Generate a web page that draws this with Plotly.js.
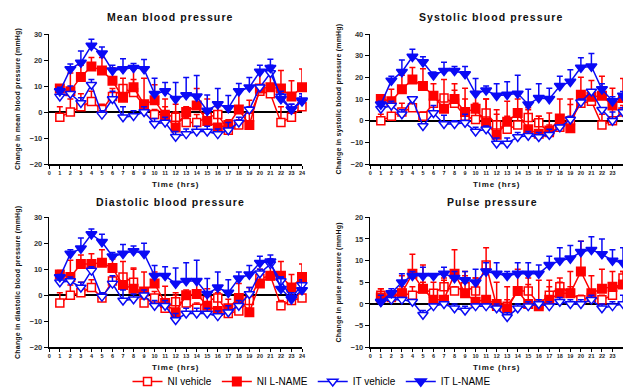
<!DOCTYPE html>
<html>
<head>
<meta charset="utf-8">
<script src="https://cdn.plot.ly/plotly-3.0.1.min.js"></script>
<style>
  html, body { margin: 0; padding: 0; background: #fff; }
  #chart { width: 623px; height: 388px; }
  .annotation-text { letter-spacing: 1.1px; }
  .g-xtitle text, .g-x2title text, .g-x3title text, .g-x4title text { letter-spacing: 0.9px; }
  .g-ytitle text, .g-y2title text, .g-y3title text, .g-y4title text { letter-spacing: 0.2px; }
</style>
</head>
<body>
<div id="chart"></div>
<script>
// ---------- data ----------
const hours = [1,2,3,4,5,6,7,8,9,10,11,12,13,14,15,16,17,18,19,20,21,22,23,24];
const seriesNames = ["NI vehicle", "NI L-NAME", "IT vehicle", "IT L-NAME"];
const panelTitles = ["Mean blood pressure", "Systolic blood pressure", "Diastolic blood pressure", "Pulse pressure"];
const yTitles = ["Change in mean blood pressure (mmHg)", "Change in systolic blood pressure (mmHg)",
                 "Change in diastolic blood pressure (mmHg)", "Change in pulse pressure (mmHg)"];
const xTitle = "Time (hrs)";
const yRanges = [[-20, 30], [-20, 40], [-20, 30], [-10, 20]];
const yDticks = [10, 10, 10, 5];

// Mean blood pressure
const meanNIveh     = [-2,0,2,4,1,6,9,7.5,2.5,-1,-1,-2,-4,-4,-2,-1,-7,-5,-2,8,7,-4,-2,2];
const meanNIvehErr  = [4,5,5,4,2,3,1.5,5,1.5,2,3,2,2,3,3,3,2,2,3,2,3,6,2,2];
const meanNILN      = [9,8,13.5,17.5,16,12,5.5,9.5,3,4.5,-1.5,-6,0,2.5,-3.5,-6,-5,1,-5,9,9.5,9,6,9.5];
const meanNILNErr   = [1,7,4.5,3.5,5,5,7.5,7,10,6,6.5,9,2,6.5,8.5,9,2,7,9.5,7,7.5,7,6,7];
const meanITveh     = [6,7,3.5,10.5,-1,5,-2,-1.5,0,-4.5,-4,-9.5,-8.5,-7.5,-7.5,-8.5,-7,-4,1,9.5,15,6,1,4];
const meanITvehErr  = [2,3,2,2,1.5,3,4,2,2,2,2,2,2,2,2,2,3,2,1,1,3,2,2,2];
const meanITLN      = [8,16.5,19,25.5,22.5,16,16.5,17,16.5,7,8,5,6.5,6,0.5,3,1.5,8,9.5,15.5,17,5,1,4.5];
const meanITLNErr   = [1.5,2,4.5,2.5,2.5,2,4,1.7,3.7,6,3.3,6.3,6.8,8,6,6,4.8,3,3.8,2.5,3.3,2,2,2.5];

// Systolic blood pressure
const sysNIveh      = [0,2,4,6,2,8,10.5,8,2,0.5,3.5,-2,-4,-2,1.5,-1,-5.5,-3,0,8,9,-2,0,4];
const sysNIvehErr   = [3,5,4,4,2,2,1.5,6,8,7.5,6.5,5,6,6,3.5,3,3.5,5,7.5,2,3,5,6,3];
const sysNILN       = [10,9,14.5,19,16,11.5,5.5,10,4,5.5,-1,-6.5,-0.5,3.5,-4,-6,-4.5,1,-3.5,12,11,11.5,7,10.5];
const sysNILNErr    = [0.5,5.5,6.5,5.5,8,5.5,13.5,7,11,8,11,11.5,9.5,6.5,10,8,8,9,13.5,8,7.5,9,8,9];
const sysITveh      = [5.5,7,3,10,-2.5,3.5,-1.5,-1.5,-1,-5,-4,-10.5,-10.5,-7.5,-7,-7.5,-6.5,-3,0.5,8.5,13.5,5,0,4];
const sysITvehErr   = [1.5,2,2,1,1,3.5,4,1.5,4,2,1.5,2.5,2.5,2,2,2,2.5,1,1.5,1.5,0.5,1,4,2];
const sysITLN       = [7.5,18.5,22.5,29.5,27,21,23,23,21.5,12.5,14,11.5,12,12.5,7.5,10.5,10,16,18,24.5,25,14.5,9,11.5];
const sysITLNErr    = [1.5,2,5.5,3.5,2.5,1.5,4,2,3.5,7,2,5.5,6,8.5,7,6.5,5,4.5,5.5,4.5,6,2.5,2,2];

// Diastolic blood pressure
const diaNIveh      = [-3,0,1,3,-1,5.5,7,5,-3,-1,-5,-2.5,-3,-5,-2,-1,-7,-6,-2,6.5,7.5,-4,-2,-1];
const diaNIvehErr   = [4,4,4,3,2,1.5,1,5,4,2.5,2,2.5,2,2,2,3,2,2,2,1.5,1.5,2,2,2];
const diaNILN       = [8,7,12,12,12.5,10.5,4,2.5,1.5,4.5,-3,-6.5,0,0.5,-4,-6,-5,-1,-6.5,4.5,7.5,7.5,3,7];
const diaNILNErr    = [1.5,6.5,3.5,4,5,3.5,9,8,7.5,4.5,6.5,7.5,2,4.5,6.5,7,3.5,5.5,9.5,5.5,6.5,5.5,5,5];
const diaITveh      = [5,5.5,3,9.5,-0.5,4.5,-2,-1.5,0,-4,-4,-9.5,-7,-7,-7,-8,-6.5,-4,0.5,8.5,12,5.5,-1,4];
const diaITvehErr   = [2,1.5,2,1.5,1.5,3,4,2,2,2,2,2.5,2,2,2,2,2.5,2,2.5,1.5,2,1.5,2,2];
const diaITLN       = [7,16,18,23.5,20.5,15,16,17,16,7.5,7.5,4.5,5.5,5.5,0.5,3,1,6.5,8,12.5,13,2.5,-1.5,2];
const diaITLNErr    = [1,1.5,4,2,3,1.5,3.5,2,4,4,3.5,6,7,8,6,6,5,2.5,3.5,2.5,2.5,4.5,2.5,3];

// Pulse pressure
const ppNIveh       = [2,1.5,2.5,2,3.5,2.5,4,3,4,3,9,-0.5,-0.5,3,3,0,2,4,2.5,1,1.5,1,2,6];
const ppNIvehErr    = [1.5,1,1.5,2,1.5,0.5,2,1,2.5,3,0.5,0.5,1.5,1,1.5,0.5,2,1,1.5,1,0.5,1,1.5,1.5];
const ppNILN        = [1.5,2,2.5,7,3.5,1,1,7,2.5,0.5,1,0,-1,3,0,-0.5,1,2.5,2.5,7.5,2.5,3.5,4,4.5];
const ppNILNErr     = [2,1,4,4.5,5.5,4,4.5,5.5,5,5.5,12,5,5,5,6,6,4.5,3.5,5,7,4,4.5,3.5,3];
const ppITveh       = [0.5,1,1,0.5,-2.5,-0.5,0,-1,-1.5,-0.5,-0.5,-1,-3,-1,-0.5,0,-0.5,0.5,0,0,1,-1,-0.5,0];
const ppITvehErr    = [0.5,0.5,0.5,0.5,1,0.5,0.5,1,1,0.5,0.5,1,1,1,1,1,1,1,1,1,1,1,1,2];
const ppITLN        = [0.5,2.5,5,6.5,6.5,6.5,7,6,5.5,5,7.5,7,6.5,7,7,7,9,10,10.5,12,12.5,11.5,10,9.5];
const ppITLNErr     = [1.5,1,2,1,2,0.5,1.5,1.5,2,3,2,2.5,1,2.5,2.5,2,2,3,3,2.5,3,3.5,2.5,3.5];

const panels = [
  [[meanNIveh, meanNIvehErr], [meanNILN, meanNILNErr], [meanITveh, meanITvehErr], [meanITLN, meanITLNErr]],
  [[sysNIveh, sysNIvehErr], [sysNILN, sysNILNErr], [sysITveh, sysITvehErr], [sysITLN, sysITLNErr]],
  [[diaNIveh, diaNIvehErr], [diaNILN, diaNILNErr], [diaITveh, diaITvehErr], [diaITLN, diaITLNErr]],
  [[ppNIveh, ppNIvehErr], [ppNILN, ppNILNErr], [ppITveh, ppITvehErr], [ppITLN, ppITLNErr]]
];

// ---------- styles ----------
const RED = "#FF0000";
const BLUE = "#0A0AF5";
const styles = [
  { color: RED,  symbol: "square",        fill: "#FFFFFF", size: 8 },
  { color: RED,  symbol: "square",        fill: RED,       size: 8.5 },
  { color: BLUE, symbol: "triangle-down", fill: "#FFFFFF", size: 9 },
  { color: BLUE, symbol: "triangle-down", fill: BLUE,      size: 9.5 }
];

const W = 623, H = 388;
const xDomains = [[49.3 / W, 302 / W], [370.3 / W, 1.0], [49.3 / W, 302 / W], [370.3 / W, 1.0]];
const yDomains = [[1 - 164 / H, 1 - 34 / H], [1 - 164 / H, 1 - 34 / H], [1 - 347.3 / H, 1 - 217.3 / H], [1 - 347.3 / H, 1 - 217.3 / H]];
const titlePos = [[170 / W, 1 - 17 / H], [491 / W, 1 - 17 / H], [170 / W, 1 - 202 / H], [492 / W, 1 - 202 / H]];

const FONT = "Arial, 'Liberation Sans', Helvetica, sans-serif";

const traces = [];
panels.forEach((panel, p) => {
  const sfx = p === 0 ? "" : String(p + 1);
  panel.forEach((pair, s) => {
    const st = styles[s];
    traces.push({
      type: "scatter",
      mode: "lines+markers",
      x: hours,
      y: pair[0],
      xaxis: "x" + sfx,
      yaxis: "y" + sfx,
      name: seriesNames[s],
      legendgroup: seriesNames[s],
      showlegend: p === 0,
      cliponaxis: false,
      line: { color: st.color, width: 1.5 },
      marker: { symbol: st.symbol, size: st.size, color: st.fill, line: { color: st.color, width: 1.5 } },
      error_y: { type: "data", symmetric: false, array: pair[1], arrayminus: pair[1].map(() => 0),
                 color: st.color, thickness: 1.5, width: 3 }
    });
  });
});

const layout = {
  width: W, height: H,
  margin: { l: 0, r: 0, t: 0, b: 0, autoexpand: false },
  paper_bgcolor: "#FFFFFF",
  plot_bgcolor: "rgba(0,0,0,0)",
  font: { family: FONT, color: "#000" },
  showlegend: true,
  legend: {
    orientation: "h", x: 0.5, xanchor: "center", y: -8 / H, yanchor: "bottom",
    font: { family: FONT, size: 10, color: "#000" }, bgcolor: "rgba(0,0,0,0)",
    tracegroupgap: 0, itemwidth: 30
  },
  annotations: []
};

panels.forEach((panel, p) => {
  const sfx = p === 0 ? "" : String(p + 1);
  layout["xaxis" + sfx] = {
    domain: xDomains[p], anchor: "y" + sfx, range: [0, 24], dtick: 1, tick0: 0,
    showgrid: false, zeroline: false, showline: true, linecolor: "#000", linewidth: 1.5,
    ticks: "outside", ticklen: 3, tickwidth: 1, tickcolor: "#000",
    tickfont: { family: FONT, size: 5.5, color: "#222", weight: "bold" },
    title: { text: xTitle, standoff: 6, font: { family: FONT, size: 8, color: "#111", weight: "bold" } },
    fixedrange: true
  };
  layout["yaxis" + sfx] = {
    domain: yDomains[p], anchor: "x" + sfx, range: yRanges[p], dtick: yDticks[p],
    showgrid: false, zeroline: true, zerolinecolor: "#000", zerolinewidth: 2,
    showline: true, linecolor: "#000", linewidth: 1.5,
    ticks: "outside", ticklen: 4, tickwidth: 1, tickcolor: "#000",
    tickfont: { family: FONT, size: 7.5, color: "#333", weight: "bold" },
    title: { text: yTitles[p], standoff: 8, font: { family: FONT, size: 7, color: "#111", weight: "bold" } },
    fixedrange: true
  };
  layout.annotations.push({
    text: panelTitles[p], xref: "paper", yref: "paper", x: titlePos[p][0], y: titlePos[p][1],
    xanchor: "center", yanchor: "middle", showarrow: false,
    font: { family: FONT, size: 10.5, color: "#111", weight: "bold" }
  });
});

Plotly.newPlot("chart", traces, layout, { displayModeBar: false, staticPlot: true });
</script>
</body>
</html>
